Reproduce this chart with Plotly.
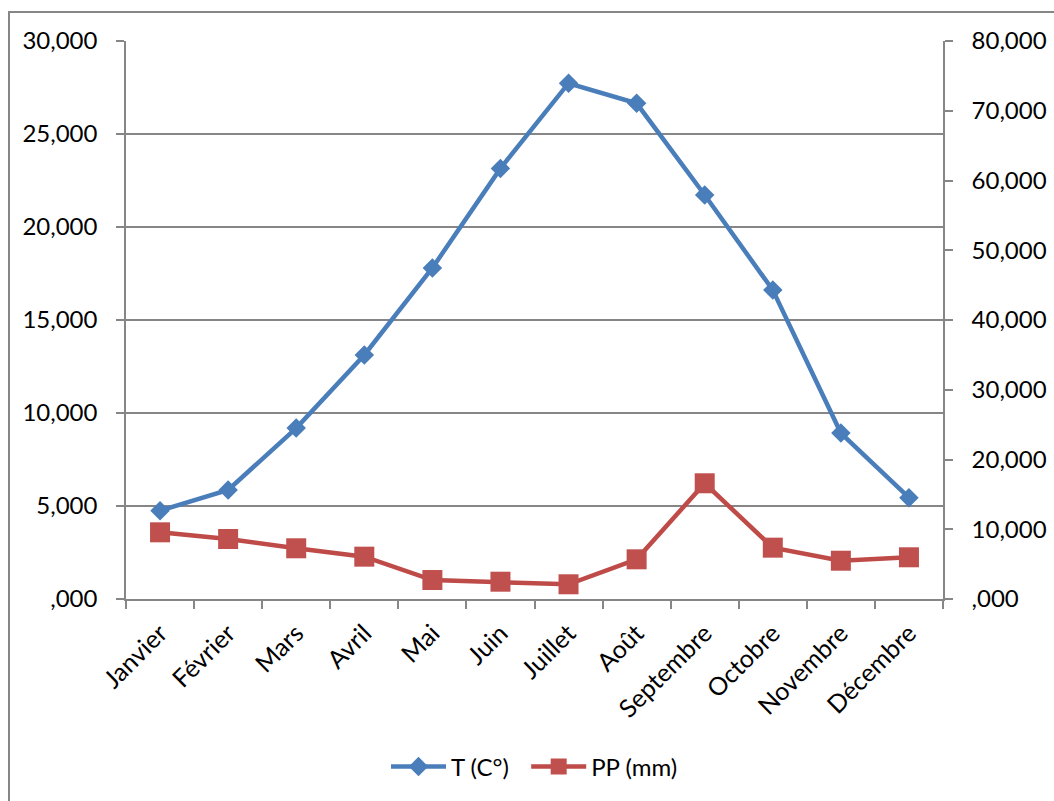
import plotly.graph_objects as go

# Monthly climate normals
mois = ["Janvier", "Février", "Mars", "Avril", "Mai", "Juin", "Juillet",
        "Août", "Septembre", "Octobre", "Novembre", "Décembre"]
temperature = [4.75, 5.86, 9.19, 13.12, 17.80, 23.15, 27.73, 26.65, 21.72, 16.61, 8.92, 5.45]
precipitation = [9.56, 8.60, 7.27, 6.07, 2.72, 2.48, 2.11, 5.69, 16.59, 7.36, 5.49, 5.98]

t_ticks = [0, 5, 10, 15, 20, 25, 30]
pp_ticks = [0, 10, 20, 30, 40, 50, 60, 70, 80]


def fr_label(v):
    s = f"{v:,.3f}".replace(",", " ").replace(".", ",")
    return s[1:] if s.startswith("0,") else s


GRAY = "#868686"
BLUE = "#4A7EBB"
RED = "#BE4B48"
FONT = "Lato"

fig = go.Figure()
fig.add_trace(go.Scatter(
    x=mois, y=temperature, name="T (C°)  ", mode="lines+markers",
    line=dict(color=BLUE, width=4.5),
    marker=dict(symbol="diamond", size=15, color=BLUE),
    yaxis="y",
))
fig.add_trace(go.Scatter(
    x=mois, y=precipitation, name="PP (mm)", mode="lines+markers",
    line=dict(color=RED, width=4.5),
    marker=dict(symbol="square", size=20, color="#C0504D"),
    yaxis="y2",
))

fig.update_layout(
    width=1054, height=801,
    margin=dict(l=126, r=111, t=41, b=202),
    paper_bgcolor="white", plot_bgcolor="white",
    font=dict(family=FONT, size=24, color="black"),
    showlegend=True,
    legend=dict(orientation="h", x=0.5, xanchor="center", y=-0.301, yanchor="middle",
                font=dict(size=24), itemwidth=55, tracegroupgap=0),
    xaxis=dict(
        type="category", tickangle=-45, tickson="boundaries", automargin=False,
        ticks="outside", ticklen=8, tickcolor=GRAY, tickwidth=1.5,
        showline=True, linecolor=GRAY, linewidth=1.5, showgrid=False,
        range=[-0.5, 11.5], tickfont=dict(size=25), ticklabelstandoff=8,
    ),
    yaxis=dict(
        range=[0, 30], tickvals=t_ticks, ticktext=[fr_label(v) for v in t_ticks],
        automargin=False,
        ticks="outside", ticklen=8, tickcolor=GRAY, tickwidth=1.5,
        showline=True, linecolor=GRAY, linewidth=1.5,
        showgrid=True, gridcolor=GRAY, gridwidth=1.5, zeroline=False,
        tickfont=dict(size=24), ticklabelstandoff=14,
    ),
    yaxis2=dict(
        range=[0, 80], tickvals=pp_ticks, ticktext=[fr_label(v) for v in pp_ticks],
        overlaying="y", side="right", automargin=False,
        ticks="outside", ticklen=8, tickcolor=GRAY, tickwidth=1.5,
        showline=True, linecolor=GRAY, linewidth=1.5,
        showgrid=False, zeroline=False,
        tickfont=dict(size=24), ticklabelstandoff=14,
    ),
)

# Chart-area frame
fig.add_shape(type="rect", xref="paper", yref="paper",
              x0=-0.1432, x1=1.3, y0=-0.6, y1=1.052,
              line=dict(color=GRAY, width=2), layer="below")

fig.write_html("out.html")
